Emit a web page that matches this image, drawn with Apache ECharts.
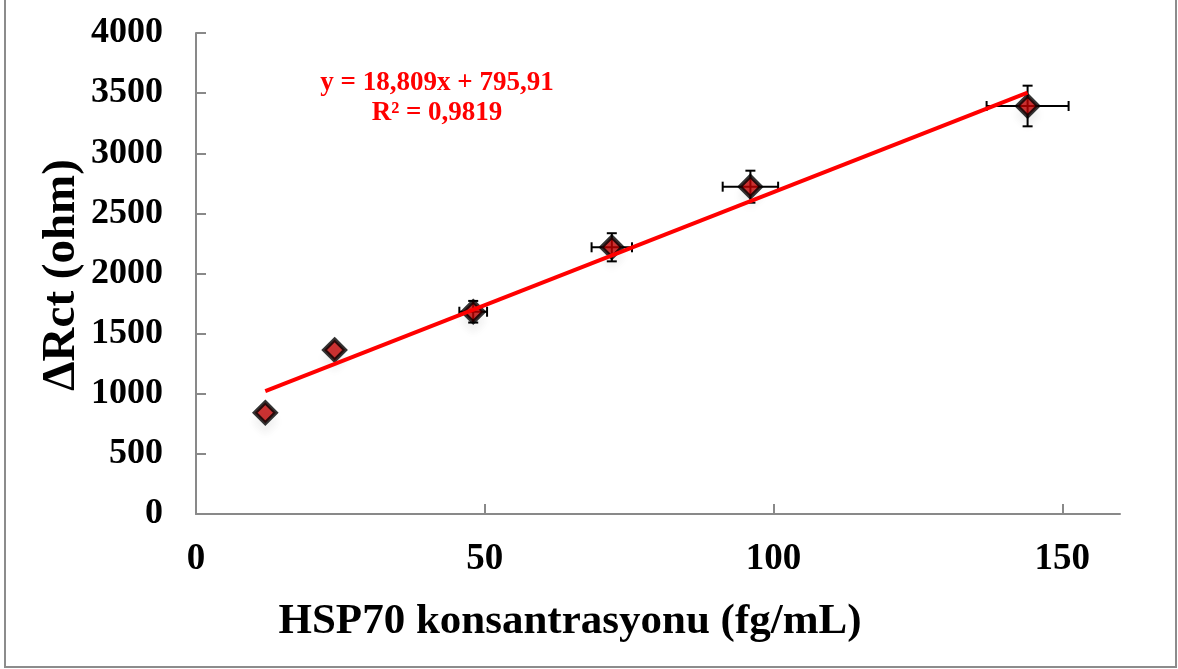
<!DOCTYPE html>
<html>
<head>
<meta charset="utf-8">
<script src="https://cdn.jsdelivr.net/npm/echarts@6/dist/echarts.min.js"></script>
<style>html,body{margin:0;padding:0;background:#fff}#c{width:1178px;height:669px}</style>
</head>
<body>
<div id="c"></div>
<script>
// ---- data ----
const concentrations = [12, 24, 48, 72, 96, 144];          // fg/mL
const deltaRct = [842, 1364, 1682, 2218, 2722, 3393];       // ohm
const xErrors = [0, 0, 2.4, 3.5, 4.8, 7.1];
const yErrors = [0, 0, 90, 117, 133, 169];
const trendSlope = 18.809;
const trendIntercept = 795.91;
const trendRange = [12, 144];
const xTicks = [0, 50, 100, 150];
const yTicks = [0, 500, 1000, 1500, 2000, 2500, 3000, 3500, 4000];
const equationLines = ['y = 18,809x + 795,91', 'R² = 0,9819'];
const xTitle = 'HSP70 konsantrasyonu (fg/mL)';
const yTitle = 'ΔRct (ohm)';

const points = concentrations.map((x, i) => [x, deltaRct[i]]);
const errData = concentrations.map((x, i) => [x, deltaRct[i], xErrors[i], yErrors[i]]);
const trendData = trendRange.map(x => [x, trendSlope * x + trendIntercept]);

const FONT = '"Liberation Serif", "Times New Roman", serif';
const chart = echarts.init(document.getElementById('c'));

chart.setOption({
  animation: false,
  backgroundColor: '#fff',
  grid: { left: 196, right: 58, top: 33, bottom: 155 },
  xAxis: {
    type: 'value', min: 0, max: 160,
    axisLine: { show: true, lineStyle: { color: '#898989', width: 2 } },
    axisTick: { show: true, inside: true, length: 10, customValues: xTicks, lineStyle: { color: '#898989', width: 2 } },
    axisLabel: { customValues: xTicks, margin: 27, fontFamily: FONT, fontWeight: 'bold', fontSize: 37, color: '#000' },
    splitLine: { show: false }
  },
  yAxis: {
    type: 'value', min: 0, max: 4000, interval: 500,
    axisLine: { show: true, lineStyle: { color: '#898989', width: 2 } },
    axisTick: { show: true, inside: true, length: 10, customValues: yTicks, lineStyle: { color: '#898989', width: 2 } },
    axisLabel: { customValues: yTicks, margin: 33, fontFamily: FONT, fontWeight: 'bold', fontSize: 36, color: '#000',
      formatter: v => String(v) },
    splitLine: { show: false }
  },
  graphic: [
    { type: 'rect', z: -10, shape: { x: 5, y: -2, width: 1171, height: 669 },
      style: { fill: 'none', stroke: '#8c8c8c', lineWidth: 2 } },
    { type: 'text', x: 437, y: 83, style: {
        text: equationLines[0], fill: '#ff0000', align: 'center', verticalAlign: 'middle',
        font: 'bold 27px ' + FONT } },
    { type: 'text', x: 437, y: 113, style: {
        text: equationLines[1], fill: '#ff0000', align: 'center', verticalAlign: 'middle',
        font: 'bold 27px ' + FONT } },
    { type: 'text', x: 570, y: 622, style: {
        text: xTitle, fill: '#000', align: 'center', verticalAlign: 'middle',
        font: 'bold 43px ' + FONT } },
    { type: 'text', x: 62, y: 275, rotation: Math.PI / 2, style: {
        text: yTitle, fill: '#000', align: 'center', verticalAlign: 'middle',
        font: 'bold 47px ' + FONT } }
  ],
  series: [
    {
      type: 'custom', z: 2,
      renderItem: function (params, api) {
        const x = api.value(0), y = api.value(1), ex = api.value(2), ey = api.value(3);
        const c = api.coord([x, y]);
        const children = [];
        const style = { stroke: '#000', lineWidth: 2 };
        const cap = 5;
        if (ex > 0) {
          const l = api.coord([x - ex, y]), r = api.coord([x + ex, y]);
          children.push({ type: 'line', shape: { x1: l[0], y1: c[1], x2: r[0], y2: c[1] }, style });
          children.push({ type: 'line', shape: { x1: l[0], y1: c[1] - cap, x2: l[0], y2: c[1] + cap }, style });
          children.push({ type: 'line', shape: { x1: r[0], y1: c[1] - cap, x2: r[0], y2: c[1] + cap }, style });
        }
        if (ey > 0) {
          const t = api.coord([x, y + ey]), b = api.coord([x, y - ey]);
          children.push({ type: 'line', shape: { x1: c[0], y1: t[1], x2: c[0], y2: b[1] }, style });
          children.push({ type: 'line', shape: { x1: c[0] - cap, y1: t[1], x2: c[0] + cap, y2: t[1] }, style });
          children.push({ type: 'line', shape: { x1: c[0] - cap, y1: b[1], x2: c[0] + cap, y2: b[1] }, style });
        }
        return { type: 'group', children };
      },
      data: errData
    },
    {
      type: 'scatter', z: 3, symbol: 'diamond', symbolSize: 21,
      itemStyle: { color: '#c00000', borderColor: '#000', borderWidth: 4,
        shadowBlur: 8, shadowColor: 'rgba(0,0,0,0.06)', shadowOffsetY: 9 },
      data: points
    },
    {
      type: 'line', z: 4, symbol: 'none',
      lineStyle: { color: '#ff0000', width: 4 },
      data: trendData
    }
  ]
});
</script>
</body>
</html>
